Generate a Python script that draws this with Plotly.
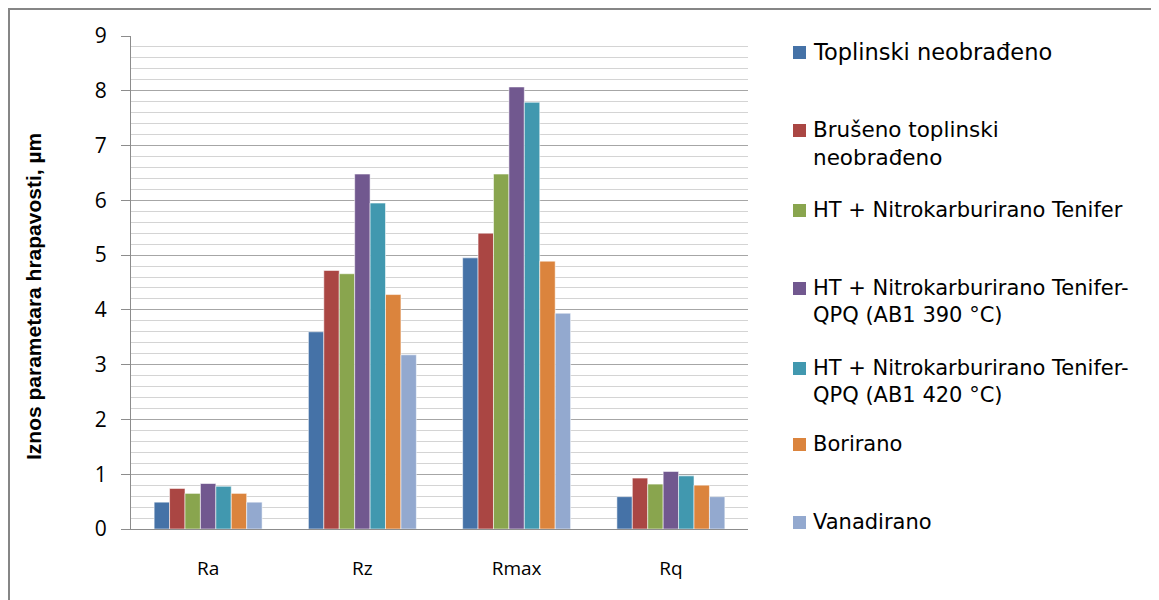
import plotly.graph_objects as go

categories = ["Ra", "Rz", "Rmax", "Rq"]

series_names = [
    "Toplinski neobrađeno",
    "Brušeno toplinski neobrađeno",
    "HT + Nitrokarburirano Tenifer",
    "HT + Nitrokarburirano Tenifer-QPQ (AB1 390 °C)",
    "HT + Nitrokarburirano Tenifer-QPQ (AB1 420 °C)",
    "Borirano",
    "Vanadirano",
]
legend_labels = [
    "Toplinski neobrađeno",
    "Brušeno toplinski<br>neobrađeno",
    "HT + Nitrokarburirano Tenifer",
    "HT + Nitrokarburirano Tenifer-<br>QPQ (AB1 390 °C)",
    "HT + Nitrokarburirano Tenifer-<br>QPQ (AB1 420 °C)",
    "Borirano",
    "Vanadirano",
]

toplinski = [0.49, 3.60, 4.95, 0.59]
bruseno = [0.74, 4.72, 5.40, 0.93]
tenifer = [0.65, 4.66, 6.48, 0.82]
qpq390 = [0.83, 6.48, 8.07, 1.05]
qpq420 = [0.78, 5.95, 7.79, 0.97]
borirano = [0.65, 4.28, 4.89, 0.80]
vanadirano = [0.49, 3.18, 3.94, 0.59]

series_values = [toplinski, bruseno, tenifer, qpq390, qpq420, borirano, vanadirano]
colors = ["#4572A7", "#AA4643", "#89A54E", "#71588F", "#4198AF", "#DB843D", "#93A9CF"]

OFF = 8  # page body margin
W, H = 1159 - OFF, 600 - OFF
# plot area in screen pixels
SL, SR, ST, SB = 131, 748, 36, 529
L, R, T, B = SL - OFF, SR - OFF, ST - OFF, SB - OFF


def px_x(p):  # screen px -> paper
    return (p - SL) / (SR - SL)


def px_y(p):
    return (SB - p) / (SB - ST)


FONT = "Open Sans, Lato, sans-serif"
LEG_FONT = "DejaVu Sans, Open Sans, sans-serif"

fig = go.Figure()
for name, vals, col in zip(series_names, series_values, colors):
    fig.add_trace(go.Bar(
        x=categories, y=vals, name=name,
        marker=dict(color=col, line=dict(color="rgba(255,255,255,0.55)", width=1)),
        showlegend=False,
    ))

legend_y = [52, 130, 210, 288, 368, 444, 522]
legend_sizes = [22.5, 21.5, 21, 21, 21, 21, 21]
shapes = []
annotations = []
for lab, col, yy, fs in zip(legend_labels, colors, legend_y, legend_sizes):
    shapes.append(dict(
        type="rect", xref="paper", yref="paper",
        x0=px_x(793), x1=px_x(806), y0=px_y(yy + 7), y1=px_y(yy - 6),
        fillcolor=col, line=dict(width=0),
    ))
    annotations.append(dict(
        xref="paper", yref="paper", x=px_x(811), y=px_y(yy - 0.68 * fs),
        text=lab, showarrow=False, xanchor="left", yanchor="top", align="left",
        font=dict(family=LEG_FONT, size=fs, color="#000000"),
    ))

# y-axis title
annotations.append(dict(
    xref="paper", yref="paper", x=px_x(33), y=px_y(297),
    text="Iznos parametara hrapavosti, µm", textangle=-90, showarrow=False,
    xanchor="center", yanchor="middle",
    font=dict(family="Liberation Sans, Arial, sans-serif", size=21, color="#000000", weight="bold"),
))

# outer chart border
shapes.append(dict(
    type="rect", xref="paper", yref="paper",
    x0=px_x(9), x1=px_x(1175), y0=px_y(640), y1=px_y(9),
    line=dict(color="#868686", width=2), fillcolor="rgba(0,0,0,0)", layer="below",
))

fig.update_layout(
    width=W, height=H,
    margin=dict(l=L, r=W - R, t=T, b=H - B, autoexpand=False),
    paper_bgcolor="white", plot_bgcolor="white",
    barmode="group", bargap=0.30, bargroupgap=0.0,
    shapes=shapes, annotations=annotations,
    font=dict(family=FONT, color="#000000"),
    xaxis=dict(
        showline=True, linecolor="#8c8c8c", linewidth=1,
        ticks="", tickfont=dict(size=19, family=FONT),
        ticklabelstandoff=22,
    ),
    yaxis=dict(
        range=[0, 9], dtick=1, tick0=0,
        showline=True, linecolor="#8c8c8c", linewidth=1,
        ticks="outside", ticklen=9, tickcolor="#8c8c8c",
        showgrid=True, gridcolor="#a6a6a6", gridwidth=1,
        minor=dict(dtick=0.2, showgrid=True, gridcolor="#d4d4d4", gridwidth=1, ticks=""),
        tickfont=dict(size=21, family=FONT),
        ticklabelstandoff=10,
        zeroline=False,
    ),
)

fig.write_html("out.html")
